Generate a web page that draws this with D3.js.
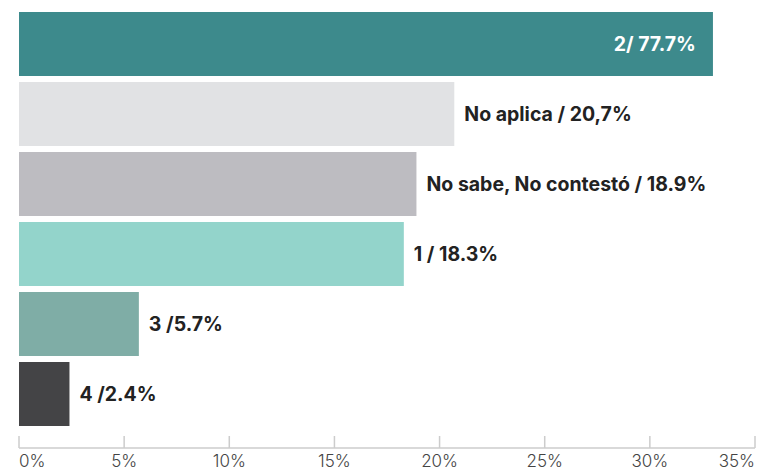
<!DOCTYPE html>
<html>
<head>
<meta charset="utf-8">
<script src="https://cdn.jsdelivr.net/npm/d3@7"></script>
<style>
  body { margin: 0; background: #fff; }
  svg { display: block; }
</style>
</head>
<body>
<div id="chart"></div>
<script>
// answers and their share
const categories = ["2", "No aplica", "No sabe, No contestó", "1", "3", "4"];
const values = [77.7, 20.7, 18.9, 18.3, 5.7, 2.4];
const labels = ["2/ 77.7%", "No aplica / 20,7%", "No sabe, No contestó / 18.9%", "1 / 18.3%", "3 /5.7%", "4 /2.4%"];
const colors = ["#3d8a8c", "#e1e2e4", "#bdbcc1", "#93d4cb", "#7fada6", "#444446"];
const ticks = [0, 5, 10, 15, 20, 25, 30, 35];

// the big bar is cut off in the original, it does not run to 77.7
const barCap = 33;

const width = 758, height = 472;

const svg = d3.select("#chart").append("svg")
  .attr("width", width)
  .attr("height", height);

const x = d3.scaleLinear()
  .domain([0, 35])
  .range([19, 755]);

const y = d3.scaleBand()
  .domain(categories)
  .range([9, 429])
  .paddingInner(6 / 70)
  .paddingOuter(3 / 70);

const rows = categories.map((c, i) => ({ cat: c, value: values[i], label: labels[i], color: colors[i] }));

svg.selectAll("rect.bar")
  .data(rows)
  .enter()
  .append("rect")
  .attr("class", "bar")
  .attr("x", x(0))
  .attr("y", d => y(d.cat))
  .attr("width", d => x(Math.min(d.value, barCap)) - x(0))
  .attr("height", y.bandwidth())
  .attr("fill", d => d.color);

// value labels, inside the clipped bar, outside for the rest
svg.selectAll("text.lbl")
  .data(rows)
  .enter()
  .append("text")
  .attr("class", "lbl")
  .attr("x", d => d.value > barCap ? x(barCap) - 17 : x(d.value) + 10)
  .attr("y", d => y(d.cat) + y.bandwidth() / 2)
  .attr("dy", "0.38em")
  .attr("text-anchor", d => d.value > barCap ? "end" : "start")
  .attr("fill", d => d.value > barCap ? "#ffffff" : "#222222")
  .style("font-family", "Inter, sans-serif")
  .style("font-weight", 700)
  .style("font-size", "19.5px")
  .text(d => d.label);

// x axis
const axisY = 448;
const axis = svg.append("g").attr("transform", `translate(0,${axisY})`);

axis.append("line")
  .attr("x1", x(0))
  .attr("x2", x(35))
  .attr("stroke", "#cccccc")
  .attr("stroke-width", 1.5);

axis.selectAll("line.tick")
  .data(ticks)
  .enter()
  .append("line")
  .attr("class", "tick")
  .attr("x1", d => x(d))
  .attr("x2", d => x(d))
  .attr("y1", -12)
  .attr("y2", 0)
  .attr("stroke", "#cccccc")
  .attr("stroke-width", 1.5);

axis.selectAll("text")
  .data(ticks)
  .enter()
  .append("text")
  .attr("x", d => x(d))
  .attr("y", 18.5)
  .attr("text-anchor", (d, i) => i === 0 ? "start" : (i === ticks.length - 1 ? "end" : "middle"))
  .attr("fill", "#444444")
  .style("font-family", "Inter, sans-serif")
  .style("font-weight", 300)
  .style("font-size", "17px")
  .text(d => d + "%");
</script>
</body>
</html>
